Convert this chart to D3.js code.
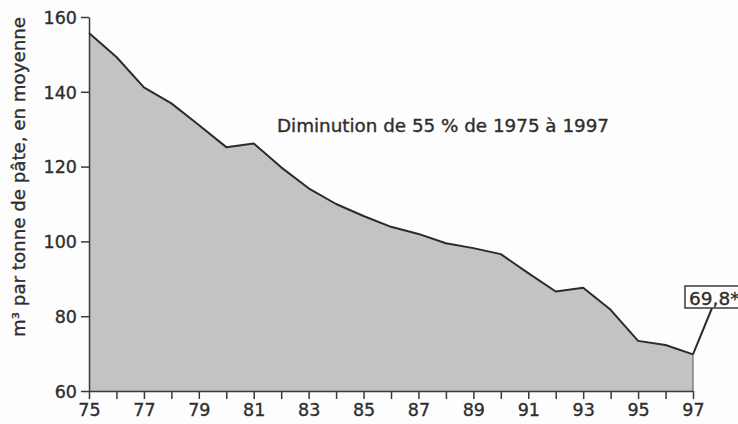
<!DOCTYPE html>
<html lang="fr">
<head>
<meta charset="utf-8">
<title>Consommation d'eau par tonne de pâte</title>
<script src="https://cdn.jsdelivr.net/npm/d3@7"></script>
<style>
  body { margin: 0; background: #fdfdfd; }
  svg { display: block; }
  text { font-family: "DejaVu Sans", sans-serif; fill: #2e2e2e; stroke: #2e2e2e; stroke-width: 0.35px; }
</style>
</head>
<body>
<script>
var w = 738, h = 424;

// values (m3 per tonne of pulp)
var years = [75, 76, 77, 78, 79, 80, 81, 82, 83, 84, 85, 86, 87, 88, 89, 90, 91, 92, 93, 94, 95, 96, 97];
var values = [155.7, 149.3, 141.2, 136.9, 131.1, 125.2, 126.2, 119.8, 114.2, 110.0, 106.8, 103.9, 102.0, 99.5, 98.2, 96.6, 91.5, 86.6, 87.6, 81.7, 73.4, 72.3, 69.8];
var yTicks = [60, 80, 100, 120, 140, 160];
var xLabels = [75, 77, 79, 81, 83, 85, 87, 89, 91, 93, 95, 97];
var title = "Diminution de 55 % de 1975 à 1997";
var yTitle = "m³ par tonne de pâte, en moyenne";
var lastLabel = "69,8*";

var dataset = years.map(function(d, i) { return { year: d, value: values[i] }; });

var xScale = d3.scaleLinear().domain([75, 97]).range([89, 693]);
var yScale = d3.scaleLinear().domain([60, 160]).range([391, 17]);

var svg = d3.select("body").append("svg")
  .attr("width", w)
  .attr("height", h);

var area = d3.area()
  .x(function(d) { return xScale(d.year); })
  .y0(yScale(60))
  .y1(function(d) { return yScale(d.value); });

var line = d3.line()
  .x(function(d) { return xScale(d.year); })
  .y(function(d) { return yScale(d.value); });

svg.append("path")
  .datum(dataset)
  .attr("d", area)
  .attr("fill", "#c3c3c3");

// right edge of the area
var last = dataset[dataset.length - 1];
svg.append("line")
  .attr("x1", xScale(last.year)).attr("x2", xScale(last.year))
  .attr("y1", yScale(last.value)).attr("y2", yScale(60))
  .attr("stroke", "#555").attr("stroke-width", 1);

svg.append("path")
  .datum(dataset)
  .attr("d", line)
  .attr("fill", "none")
  .attr("stroke", "#2b2b2b")
  .attr("stroke-width", 2)
  .attr("stroke-linejoin", "round");

// axes
var xAxis = d3.axisBottom(xScale)
  .tickValues(years)
  .tickSizeInner(8)
  .tickSizeOuter(0)
  .tickPadding(5)
  .tickFormat(function(d) { return xLabels.indexOf(d) >= 0 ? d : ""; });

var yAxis = d3.axisLeft(yScale)
  .tickValues(yTicks)
  .tickSizeInner(8)
  .tickSizeOuter(0)
  .tickPadding(4);

var gx = svg.append("g")
  .attr("transform", "translate(0," + yScale(60) + ")")
  .call(xAxis);

var gy = svg.append("g")
  .attr("transform", "translate(" + xScale(75) + ",0)")
  .call(yAxis);

[gx, gy].forEach(function(g) {
  g.selectAll("path, line").attr("stroke", "#3a3a3a").attr("stroke-width", 1.5);
  g.selectAll("text").attr("font-size", 17.5).attr("fill", "#2e2e2e")
    .attr("stroke", "#2e2e2e").attr("stroke-width", 0.35)
    .style("font-family", "'DejaVu Sans', sans-serif");
});
gy.selectAll("text").attr("dy", "0.36em");

// titles
svg.append("text")
  .attr("x", 277)
  .attr("y", 132)
  .attr("font-size", 18)
  .attr("textLength", 332)
  .attr("lengthAdjust", "spacingAndGlyphs")
  .text(title);

svg.append("text")
  .attr("transform", "translate(25,177) rotate(-90)")
  .attr("text-anchor", "middle")
  .attr("font-size", 17.5)
  .attr("textLength", 320)
  .attr("lengthAdjust", "spacingAndGlyphs")
  .text(yTitle);

// label of the last value
svg.append("line")
  .attr("x1", xScale(last.year))
  .attr("y1", yScale(last.value))
  .attr("x2", 712)
  .attr("y2", 308)
  .attr("stroke", "#2b2b2b")
  .attr("stroke-width", 2);

svg.append("rect")
  .attr("x", 685).attr("y", 286)
  .attr("width", 62).attr("height", 22)
  .attr("fill", "#fdfdfd")
  .attr("stroke", "#3a3a3a")
  .attr("stroke-width", 1.5);

svg.append("text")
  .attr("x", 689)
  .attr("y", 305)
  .attr("font-size", 18.5)
  .text(lastLabel);
</script>
</body>
</html>
